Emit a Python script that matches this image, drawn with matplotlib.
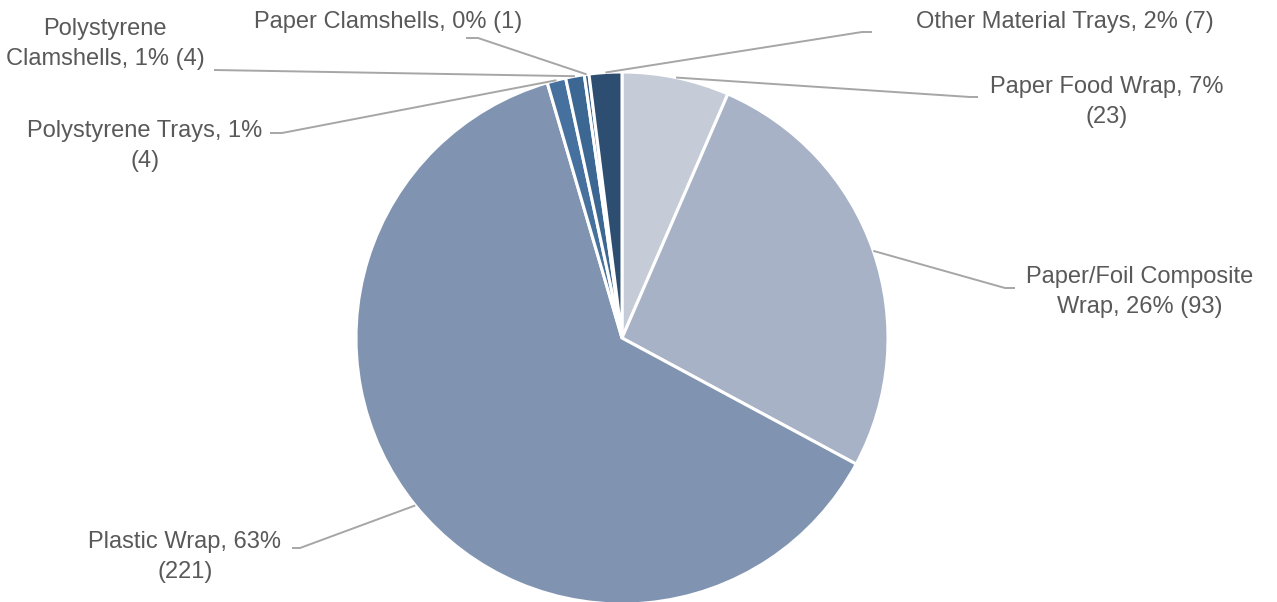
import numpy as np
import matplotlib
matplotlib.use("Agg")
import matplotlib.pyplot as plt

# data, clockwise from 12 o'clock
categories = ["Paper Food Wrap", "Paper/Foil Composite Wrap", "Plastic Wrap",
              "Polystyrene Trays", "Polystyrene Clamshells", "Paper Clamshells",
              "Other Material Trays"]
counts = [23, 93, 221, 4, 4, 1, 7]
label_texts = ["Paper Food Wrap, 7%\n(23)",
               "Paper/Foil Composite\nWrap, 26% (93)",
               "Plastic Wrap, 63%\n(221)",
               "Polystyrene Trays, 1%\n(4)",
               "Polystyrene\nClamshells, 1% (4)",
               "Paper Clamshells, 0% (1)",
               "Other Material Trays, 2% (7)"]
colors = ["#c5cbd7", "#a7b2c6", "#8094b1", "#46719f", "#3d6793", "#355d87", "#2e4e71"]

# layout in pixels (figure is 1277x602)
W, H = 1277, 602
CX, CY, R = 622, 338, 266
# text centre, elbow of leader, end of leader
text_px = [(1107, 102), (1140, 292), (185, 557), (145, 146), (105, 44), (388, 22), (1065, 22)]
elbow_px = [(970, 97), (1005, 288), (300, 548), (282, 133), (214, 70), (478, 38), (862, 32)]
end_px = [(978, 97), (1015, 288), (292, 548), (270, 133), (214, 70), (466, 38), (872, 32)]

def px(p):
    return ((p[0] - CX) / R, (CY - p[1]) / R)

plt.rcParams['font.family'] = ['Liberation Sans', 'DejaVu Sans']

fig = plt.figure(figsize=(W / 100, H / 100), dpi=100)
ax = fig.add_axes([0, 0, 1, 1])
wedges, _ = ax.pie(counts, colors=colors, startangle=90, counterclock=False, radius=1,
                   wedgeprops=dict(edgecolor="white", linewidth=2.2))
ax.set_xlim(-CX / R, (W - CX) / R)
ax.set_ylim(-(H - CY) / R, CY / R)
ax.set_aspect("equal")
ax.axis("off")

line_col = "#a6a6a6"
for w, txt, tp, ep, en in zip(wedges, label_texts, text_px, elbow_px, end_px):
    mid = np.deg2rad((w.theta1 + w.theta2) / 2)
    sx, sy = np.cos(mid), np.sin(mid)
    ex, ey = px(ep)
    nx, ny = px(en)
    ax.plot([sx, ex, nx], [sy, ey, ny], color=line_col, lw=1.4, solid_capstyle="butt", zorder=1)
    tx, ty = px(tp)
    ax.text(tx, ty, txt, ha="center", va="center", fontsize=17, color="#595959",
            linespacing=1.5)

fig.savefig("out.png", dpi=100)
